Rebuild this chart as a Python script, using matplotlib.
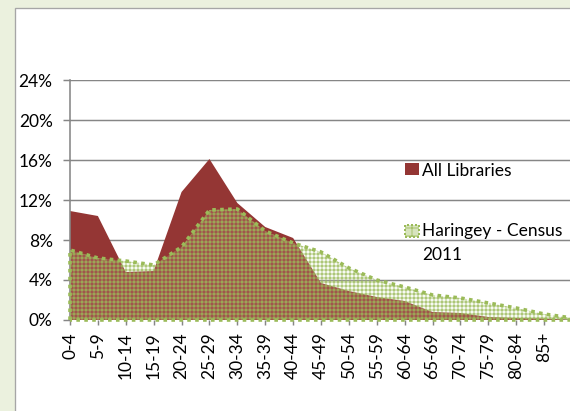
import numpy as np
import matplotlib
matplotlib.use("Agg")
import matplotlib.pyplot as plt
from matplotlib.patches import Rectangle
from matplotlib.ticker import FuncFormatter

plt.rcParams['font.family'] = ['Lato', 'DejaVu Sans']
plt.rcParams['hatch.linewidth'] = 0.6

# age bands (last point past 85+ has no visible label in the cropped chart)
age_bands = ['0-4', '5-9', '10-14', '15-19', '20-24', '25-29', '30-34', '35-39',
             '40-44', '45-49', '50-54', '55-59', '60-64', '65-69', '70-74',
             '75-79', '80-84', '85+', '']
all_libraries = [10.9, 10.4, 4.8, 4.9, 12.8, 16.1, 11.7, 9.3, 8.2, 3.7, 2.9,
                 2.3, 1.9, 0.8, 0.7, 0.3, 0.2, 0.15, 0.0]
haringey_2011 = [7.0, 6.2, 5.9, 5.5, 7.3, 11.0, 11.1, 8.9, 7.7, 6.8, 5.2,
                 4.0, 3.3, 2.5, 2.2, 1.7, 1.2, 0.6, 0.2]
y_ticks = [0, 4, 8, 12, 16, 20, 24]

red = '#943634'
green = '#9BBB59'
W, H = 570, 411
DPI = 96  # 96 dpi so the hatch grid lands on whole pixels (4 px)
fs = 13

fig = plt.figure(figsize=(W / DPI, H / DPI), dpi=DPI)
fig.patch.set_facecolor('#EBF1DE')

# white chart area with grey border
fig.patches.append(Rectangle((15 / W, -0.1), 1.1, 1 - 8 / H + 0.1,
                             transform=fig.transFigure, facecolor='white',
                             edgecolor='#A6A6A6', linewidth=1.0, zorder=-5))

ax = fig.add_axes([70 / W, 1 - 320 / H, 502 / W, 240 / H])
ax.set_facecolor('none')
x = np.arange(len(age_bands))

ax.fill_between(x, all_libraries, 0, facecolor=red, edgecolor='none', zorder=2)
# census: light translucent wash + green grid pattern + dotted outline
ax.fill_between(x, haringey_2011, 0, facecolor='#D7E4BD', alpha=0.18,
                edgecolor='none', zorder=3)
ax.fill_between(x, haringey_2011, 0, facecolor='none', edgecolor=green,
                hatch='++++', linewidth=0, zorder=3)
ax.fill_between(x, haringey_2011, 0, facecolor='none', edgecolor=green,
                linewidth=2.7, linestyle=(0, (1, 1.2)), zorder=4, clip_on=False)

ax.set_xlim(0, len(age_bands) - 1)
ax.set_ylim(0, 24)
ax.set_yticks(y_ticks)
ax.yaxis.set_major_formatter(FuncFormatter(lambda v, p: f'{v:.0f}%'))
ax.set_xticks(x)
ax.set_xticklabels(age_bands, rotation=90, va='top', ha='center')

ax.set_axisbelow(True)
ax.grid(axis='y', color='#868686', linewidth=1.1, zorder=0)
for s in ['top', 'right', 'bottom']:
    ax.spines[s].set_visible(False)
ax.spines['left'].set_color('#868686')
ax.spines['left'].set_linewidth(1.2)
ax.axhline(0, color='#868686', linewidth=1.2, zorder=1)
ax.tick_params(axis='both', colors='#868686', labelcolor='black',
               labelsize=fs, width=1.1)
ax.tick_params(axis='y', length=5, pad=8)
ax.tick_params(axis='x', length=4, pad=5)

# legend drawn in pixel positions like the Excel one
def fx(px):
    return px / W

def fy(py):
    return 1 - py / H

fig.patches.append(Rectangle((fx(405), fy(175)), 14 / W, 12 / H,
                             transform=fig.transFigure, facecolor=red,
                             edgecolor='none'))
fig.patches.append(Rectangle((fx(405), fy(237)), 14 / W, 12 / H,
                             transform=fig.transFigure, facecolor='#D7E4BD',
                             edgecolor=green, hatch='++', linewidth=1.5,
                             linestyle=(0, (1, 1))))
fig.text(fx(422), fy(176), 'All Libraries', fontsize=fs, va='baseline')
fig.text(fx(422), fy(236), 'Haringey - Census', fontsize=fs, va='baseline')
fig.text(fx(422), fy(260), '2011', fontsize=fs, va='baseline')

fig.savefig('out.png', dpi=DPI)
